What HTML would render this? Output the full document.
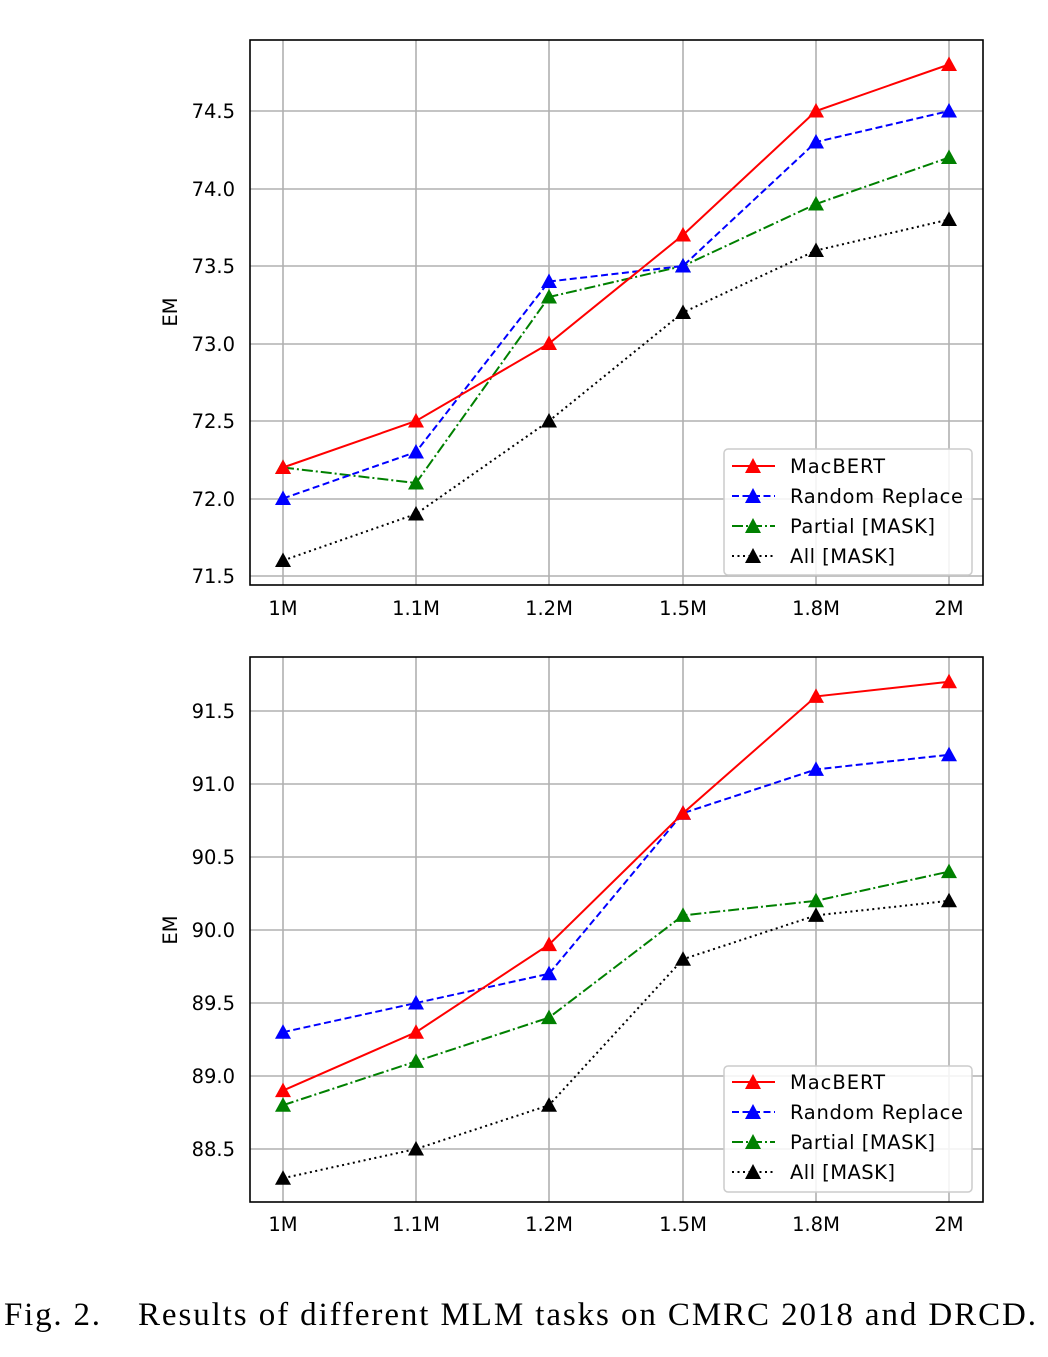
<!DOCTYPE html>
<html><head><meta charset="utf-8"><style>
body{margin:0;background:#fff;width:1048px;height:1352px;overflow:hidden}
svg text{font-family:"DejaVu Sans",sans-serif;font-size:19.5px;fill:#000}
</style></head><body>
<svg width="1048" height="1352" viewBox="0 0 1048 1352" xmlns="http://www.w3.org/2000/svg">
<defs>
<marker id="mr" markerUnits="userSpaceOnUse" markerWidth="18" markerHeight="18" refX="8" refY="8.5" overflow="visible"><polygon points="8,0.5 16,15 0,15" fill="red"/></marker>
<marker id="mb" markerUnits="userSpaceOnUse" markerWidth="18" markerHeight="18" refX="8" refY="8.5" overflow="visible"><polygon points="8,0.5 16,15 0,15" fill="blue"/></marker>
<marker id="mg" markerUnits="userSpaceOnUse" markerWidth="18" markerHeight="18" refX="8" refY="8.5" overflow="visible"><polygon points="8,0.5 16,15 0,15" fill="green"/></marker>
<marker id="mk" markerUnits="userSpaceOnUse" markerWidth="18" markerHeight="18" refX="8" refY="8.5" overflow="visible"><polygon points="8,0.5 16,15 0,15" fill="black"/></marker>
</defs>

<!-- TOP -->
<g stroke="#b0b0b0" stroke-width="1.6">
<line x1="283" y1="40" x2="283" y2="585"/><line x1="416" y1="40" x2="416" y2="585"/><line x1="549" y1="40" x2="549" y2="585"/><line x1="683" y1="40" x2="683" y2="585"/><line x1="816" y1="40" x2="816" y2="585"/><line x1="949" y1="40" x2="949" y2="585"/>
<line x1="250" y1="111" x2="983" y2="111"/><line x1="250" y1="189" x2="983" y2="189"/><line x1="250" y1="266" x2="983" y2="266"/><line x1="250" y1="344" x2="983" y2="344"/><line x1="250" y1="421" x2="983" y2="421"/><line x1="250" y1="499" x2="983" y2="499"/><line x1="250" y1="576" x2="983" y2="576"/>
</g>
<g fill="none" stroke-width="2">
<polyline stroke="black" stroke-dasharray="2,3.5" marker-start="url(#mk)" marker-mid="url(#mk)" marker-end="url(#mk)" points="283,560.5 416,514 549,421 683,312.5 816,250.5 949,219.5"/>
<polyline stroke="green" stroke-dasharray="11,3,2,3" marker-start="url(#mg)" marker-mid="url(#mg)" marker-end="url(#mg)" points="283,467.5 416,483 549,297 683,266 816,204 949,157.5"/>
<polyline stroke="blue" stroke-dasharray="7,3.5" marker-start="url(#mb)" marker-mid="url(#mb)" marker-end="url(#mb)" points="283,498.5 416,452 549,281.5 683,266 816,142 949,111"/>
<polyline stroke="red" marker-start="url(#mr)" marker-mid="url(#mr)" marker-end="url(#mr)" points="283,467.5 416,421 549,343.5 683,235 816,111 949,64.5"/>
</g>
<rect x="250" y="40" width="733" height="545" fill="none" stroke="#000" stroke-width="1.6"/>
<g text-anchor="end">
<text x="235" y="118">74.5</text><text x="235" y="196">74.0</text><text x="235" y="273">73.5</text><text x="235" y="351">73.0</text><text x="235" y="428">72.5</text><text x="235" y="506">72.0</text><text x="235" y="583">71.5</text>
</g>
<g text-anchor="middle">
<text x="283" y="615">1M</text><text x="416" y="615">1.1M</text><text x="549" y="615">1.2M</text><text x="683" y="615">1.5M</text><text x="816" y="615">1.8M</text><text x="949" y="615">2M</text>
</g>
<text transform="translate(177,312) rotate(-90)" text-anchor="middle">EM</text>
<g>
<rect x="724" y="449" width="248" height="126" rx="4" fill="#fff" fill-opacity="0.85" stroke="#ccc" stroke-width="1.5"/>
<line x1="732" y1="466" x2="775" y2="466" stroke="red" stroke-width="2"/><polygon points="753,458 761,473 745,473" fill="red"/>
<line x1="732" y1="496" x2="775" y2="496" stroke="blue" stroke-width="2" stroke-dasharray="7,3.5"/><polygon points="753,488 761,503 745,503" fill="blue"/>
<line x1="732" y1="526" x2="775" y2="526" stroke="green" stroke-width="2" stroke-dasharray="11,3,2,3"/><polygon points="753,518 761,533 745,533" fill="green"/>
<line x1="732" y1="556" x2="775" y2="556" stroke="black" stroke-width="2" stroke-dasharray="2,3.5"/><polygon points="753,548 761,563 745,563" fill="black"/>
<text x="790" y="473" textLength="95">MacBERT</text><text x="790" y="503" textLength="173">Random Replace</text><text x="790" y="533" textLength="145">Partial [MASK]</text><text x="790" y="563" textLength="105">All [MASK]</text>
</g>

<!-- BOTTOM -->
<g stroke="#b0b0b0" stroke-width="1.6">
<line x1="283" y1="657" x2="283" y2="1202"/><line x1="416" y1="657" x2="416" y2="1202"/><line x1="549" y1="657" x2="549" y2="1202"/><line x1="683" y1="657" x2="683" y2="1202"/><line x1="816" y1="657" x2="816" y2="1202"/><line x1="949" y1="657" x2="949" y2="1202"/>
<line x1="250" y1="711" x2="983" y2="711"/><line x1="250" y1="784" x2="983" y2="784"/><line x1="250" y1="857" x2="983" y2="857"/><line x1="250" y1="930" x2="983" y2="930"/><line x1="250" y1="1003" x2="983" y2="1003"/><line x1="250" y1="1076" x2="983" y2="1076"/><line x1="250" y1="1149" x2="983" y2="1149"/>
</g>
<g fill="none" stroke-width="2">
<polyline stroke="black" stroke-dasharray="2,3.5" marker-start="url(#mk)" marker-mid="url(#mk)" marker-end="url(#mk)" points="283,1178.2 416,1149 549,1105.2 683,959.2 816,915.4 949,900.8"/>
<polyline stroke="green" stroke-dasharray="11,3,2,3" marker-start="url(#mg)" marker-mid="url(#mg)" marker-end="url(#mg)" points="283,1105.2 416,1061.4 549,1017.6 683,915.4 816,900.8 949,871.6"/>
<polyline stroke="blue" stroke-dasharray="7,3.5" marker-start="url(#mb)" marker-mid="url(#mb)" marker-end="url(#mb)" points="283,1032.2 416,1003 549,973.8 683,813.2 816,769.4 949,754.8"/>
<polyline stroke="red" marker-start="url(#mr)" marker-mid="url(#mr)" marker-end="url(#mr)" points="283,1090.6 416,1032.2 549,944.6 683,813.2 816,696.4 949,681.8"/>
</g>
<rect x="250" y="657" width="733" height="545" fill="none" stroke="#000" stroke-width="1.6"/>
<g text-anchor="end">
<text x="235" y="718">91.5</text><text x="235" y="791">91.0</text><text x="235" y="864">90.5</text><text x="235" y="937">90.0</text><text x="235" y="1010">89.5</text><text x="235" y="1083">89.0</text><text x="235" y="1156">88.5</text>
</g>
<g text-anchor="middle">
<text x="283" y="1231">1M</text><text x="416" y="1231">1.1M</text><text x="549" y="1231">1.2M</text><text x="683" y="1231">1.5M</text><text x="816" y="1231">1.8M</text><text x="949" y="1231">2M</text>
</g>
<text transform="translate(177,930) rotate(-90)" text-anchor="middle">EM</text>
<g>
<rect x="724" y="1066" width="248" height="126" rx="4" fill="#fff" fill-opacity="0.85" stroke="#ccc" stroke-width="1.5"/>
<line x1="732" y1="1082" x2="775" y2="1082" stroke="red" stroke-width="2"/><polygon points="753,1074 761,1089 745,1089" fill="red"/>
<line x1="732" y1="1112" x2="775" y2="1112" stroke="blue" stroke-width="2" stroke-dasharray="7,3.5"/><polygon points="753,1104 761,1119 745,1119" fill="blue"/>
<line x1="732" y1="1142" x2="775" y2="1142" stroke="green" stroke-width="2" stroke-dasharray="11,3,2,3"/><polygon points="753,1134 761,1149 745,1149" fill="green"/>
<line x1="732" y1="1172" x2="775" y2="1172" stroke="black" stroke-width="2" stroke-dasharray="2,3.5"/><polygon points="753,1164 761,1179 745,1179" fill="black"/>
<text x="790" y="1089" textLength="95">MacBERT</text><text x="790" y="1119" textLength="173">Random Replace</text><text x="790" y="1149" textLength="145">Partial [MASK]</text><text x="790" y="1179" textLength="105">All [MASK]</text>
</g>

<text x="4" y="1325" textLength="96" lengthAdjust="spacing" style="font-family:'Liberation Serif',serif;font-size:33px">Fig. 2.</text>
<text x="138" y="1325" textLength="898" lengthAdjust="spacing" style="font-family:'Liberation Serif',serif;font-size:33px">Results of different MLM tasks on CMRC 2018 and DRCD.</text>
</svg>
</body></html>
